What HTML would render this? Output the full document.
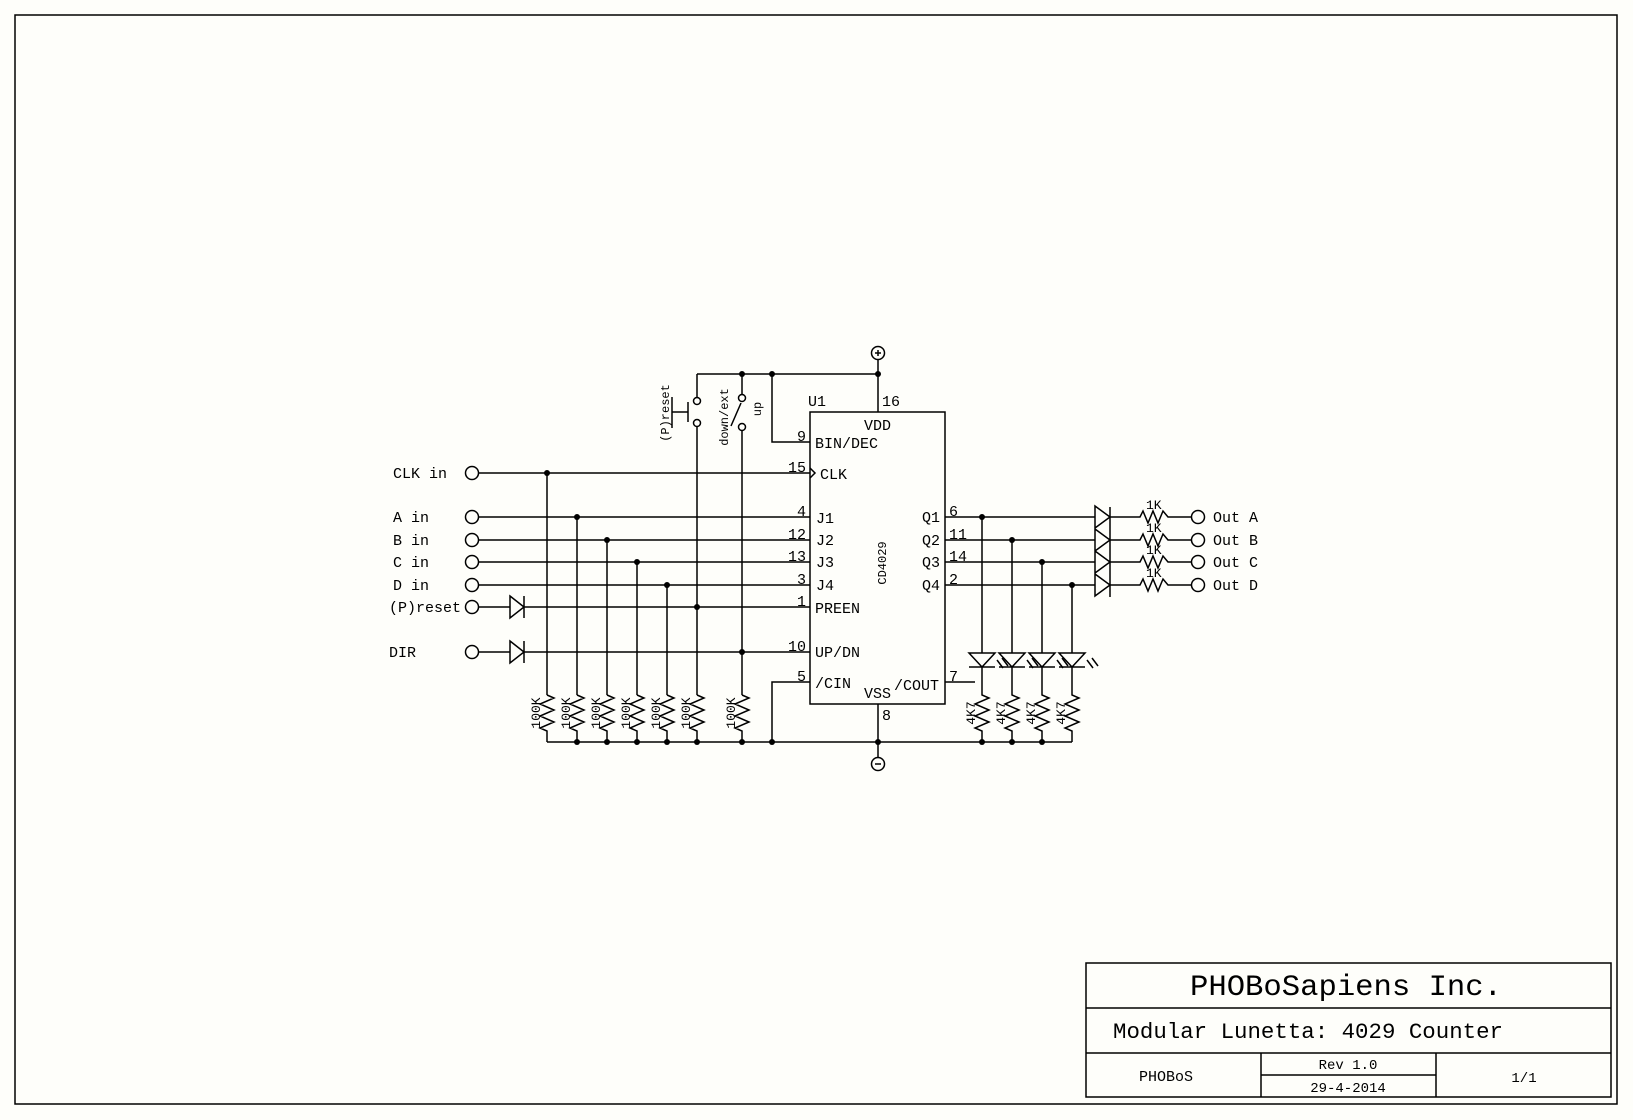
<!DOCTYPE html>
<html><head><meta charset="utf-8"><style>
html,body{margin:0;padding:0;background:#fefefa;}
svg{display:block}
text{font-family:"Liberation Mono",monospace;fill:#000;}
</style></head><body>
<svg width="1633" height="1120" viewBox="0 0 1633 1120" xmlns="http://www.w3.org/2000/svg">
<rect x="0" y="0" width="1633" height="1120" fill="#fefefa"/>
<g fill="none" stroke="#000" stroke-width="1.5">
<rect x="15" y="15" width="1602" height="1089"/>
<!-- title block -->
<rect x="1086" y="963" width="525" height="134"/>
<path d="M1086 1008H1611M1086 1053H1611M1261 1053V1097M1436 1053V1097M1261 1075H1436"/>
<!-- chip -->
<rect x="810" y="412" width="135" height="292"/>
<path d="M810 468l5 5l-5 5"/>
<!-- power -->
<circle cx="878" cy="353" r="6.5"/>
<path d="M878 350v6M875 353h6"/>
<path d="M878 359.5V412M878 704V758"/>
<circle cx="878" cy="764" r="6.5"/>
<path d="M875 764h6"/>
<!-- top rail -->
<path d="M697 374H878M697 374V397.5M772 374V442H810"/>
<!-- pushbutton -->
<circle cx="697" cy="401" r="3.5"/><circle cx="697" cy="423" r="3.5"/>
<path d="M688 402V422M672 412H688M672 397V428"/>
<!-- switch -->
<path d="M742 374V394.5"/>
<circle cx="742" cy="398" r="3.5"/><circle cx="742" cy="427" r="3.5"/>
<path d="M731 426L741 403"/>
<!-- input lines -->
<circle cx="472" cy="473" r="6.5"/><circle cx="472" cy="517" r="6.5"/><circle cx="472" cy="540" r="6.5"/>
<circle cx="472" cy="562" r="6.5"/><circle cx="472" cy="585" r="6.5"/><circle cx="472" cy="607" r="6.5"/><circle cx="472" cy="652" r="6.5"/>
<path d="M478.5 473H810M478.5 517H810M478.5 540H810M478.5 562H810M478.5 585H810"/>
<path d="M478.5 607H510M524 607H810M478.5 652H510M524 652H810"/>
<path d="M510 596L524 607L510 618ZM524 596V618M510 641L524 652L510 663ZM524 641V663"/>
<path d="M810 682H772V742"/>
<!-- verticals -->
<path d="M547 473V695M577 517V695M607 540V695M637 562V695M667 585V695M697 426.5V695M742 430.5V695"/>
<path d="M547 695l7 3l-14 6l14 6l-14 6l14 6l-14 6l7 3V742
M577 695l7 3l-14 6l14 6l-14 6l14 6l-14 6l7 3V742
M607 695l7 3l-14 6l14 6l-14 6l14 6l-14 6l7 3V742
M637 695l7 3l-14 6l14 6l-14 6l14 6l-14 6l7 3V742
M667 695l7 3l-14 6l14 6l-14 6l14 6l-14 6l7 3V742
M697 695l7 3l-14 6l14 6l-14 6l14 6l-14 6l7 3V742
M742 695l7 3l-14 6l14 6l-14 6l14 6l-14 6l7 3V742"/>
<path d="M547 742H1072"/>
<!-- outputs -->
<path d="M945 517H1095M945 540H1095M945 562H1095M945 585H1095"/>
<path d="M1095 506L1110 517L1095 528ZM1095 529L1110 540L1095 551ZM1095 551L1110 562L1095 573ZM1095 574L1110 585L1095 596ZM1110 507V597"/>
<path d="M1110 517H1140l3 -6l5 12l5 -12l5 12l5 -12l5 6H1191.5
M1110 540H1140l3 -6l5 12l5 -12l5 12l5 -12l5 6H1191.5
M1110 562H1140l3 -6l5 12l5 -12l5 12l5 -12l5 6H1191.5
M1110 585H1140l3 -6l5 12l5 -12l5 12l5 -12l5 6H1191.5"/>
<circle cx="1198" cy="517" r="6.5"/><circle cx="1198" cy="540" r="6.5"/><circle cx="1198" cy="562" r="6.5"/><circle cx="1198" cy="585" r="6.5"/>
<!-- LEDs -->
<path d="M982 517V653M1012 540V653M1042 562V653M1072 585V653"/>
<path d="M969 653H995L982 667ZM969 667H995M999 653H1025L1012 667ZM999 667H1025M1029 653H1055L1042 667ZM1029 667H1055M1059 653H1085L1072 667ZM1059 667H1085"/>
<path d="M997 660l6 8M1002 658l6 8M1027 660l6 8M1032 658l6 8M1057 660l6 8M1062 658l6 8M1087 660l6 8M1092 658l6 8"/>
<path d="M982 667V695l7 3l-14 6l14 6l-14 6l14 6l-14 6l7 3V742
M1012 667V695l7 3l-14 6l14 6l-14 6l14 6l-14 6l7 3V742
M1042 667V695l7 3l-14 6l14 6l-14 6l14 6l-14 6l7 3V742
M1072 667V695l7 3l-14 6l14 6l-14 6l14 6l-14 6l7 3V742"/>
<path d="M945 682H975"/>
</g>
<g fill="#000">
<circle cx="742" cy="374" r="3"/><circle cx="772" cy="374" r="3"/><circle cx="878" cy="374" r="3"/>
<circle cx="547" cy="473" r="3"/><circle cx="577" cy="517" r="3"/><circle cx="607" cy="540" r="3"/><circle cx="637" cy="562" r="3"/><circle cx="667" cy="585" r="3"/>
<circle cx="697" cy="607" r="3"/><circle cx="742" cy="652" r="3"/>
<circle cx="577" cy="742" r="3"/><circle cx="607" cy="742" r="3"/><circle cx="637" cy="742" r="3"/><circle cx="667" cy="742" r="3"/><circle cx="697" cy="742" r="3"/><circle cx="742" cy="742" r="3"/><circle cx="772" cy="742" r="3"/><circle cx="878" cy="742" r="3"/>
<circle cx="982" cy="742" r="3"/><circle cx="1012" cy="742" r="3"/><circle cx="1042" cy="742" r="3"/>
<circle cx="982" cy="517" r="3"/><circle cx="1012" cy="540" r="3"/><circle cx="1042" cy="562" r="3"/><circle cx="1072" cy="585" r="3"/>
</g>
<g font-size="15">
<text x="393" y="478">CLK in</text>
<text x="393" y="522">A in</text>
<text x="393" y="545">B in</text>
<text x="393" y="567">C in</text>
<text x="393" y="590">D in</text>
<text x="389" y="612">(P)reset</text>
<text x="389" y="657">DIR</text>
<text x="808" y="406">U1</text>
<text x="882" y="406">16</text>
<text x="882" y="720">8</text>
<text x="864" y="430">VDD</text>
<text x="815" y="448">BIN/DEC</text>
<text x="820" y="479">CLK</text>
<text x="816" y="523">J1</text>
<text x="816" y="545">J2</text>
<text x="816" y="567">J3</text>
<text x="816" y="590">J4</text>
<text x="815" y="613">PREEN</text>
<text x="815" y="657">UP/DN</text>
<text x="815" y="688">/CIN</text>
<text x="864" y="698">VSS</text>
<text x="894" y="690">/COUT</text>
<text x="940" y="522" text-anchor="end">Q1</text>
<text x="940" y="545" text-anchor="end">Q2</text>
<text x="940" y="567" text-anchor="end">Q3</text>
<text x="940" y="590" text-anchor="end">Q4</text>
<text x="806" y="441" text-anchor="end">9</text>
<text x="806" y="472" text-anchor="end">15</text>
<text x="806" y="516" text-anchor="end">4</text>
<text x="806" y="539" text-anchor="end">12</text>
<text x="806" y="561" text-anchor="end">13</text>
<text x="806" y="584" text-anchor="end">3</text>
<text x="806" y="606" text-anchor="end">1</text>
<text x="806" y="651" text-anchor="end">10</text>
<text x="806" y="681" text-anchor="end">5</text>
<text x="949" y="516">6</text>
<text x="949" y="539">11</text>
<text x="949" y="561">14</text>
<text x="949" y="584">2</text>
<text x="949" y="681">7</text>
<text x="1213" y="522">Out A</text>
<text x="1213" y="545">Out B</text>
<text x="1213" y="567">Out C</text>
<text x="1213" y="590">Out D</text>
</g>
<g font-size="13">
<text x="1146" y="509">1K</text><text x="1146" y="532">1K</text><text x="1146" y="554">1K</text><text x="1146" y="577">1K</text>
</g>
<g font-size="13">
<text transform="translate(540,713) rotate(-90)" text-anchor="middle">100K</text>
<text transform="translate(570,713) rotate(-90)" text-anchor="middle">100K</text>
<text transform="translate(600,713) rotate(-90)" text-anchor="middle">100K</text>
<text transform="translate(630,713) rotate(-90)" text-anchor="middle">100K</text>
<text transform="translate(660,713) rotate(-90)" text-anchor="middle">100K</text>
<text transform="translate(690,713) rotate(-90)" text-anchor="middle">100K</text>
<text transform="translate(735,713) rotate(-90)" text-anchor="middle">100K</text>
<text transform="translate(975,713) rotate(-90)" text-anchor="middle">4K7</text>
<text transform="translate(1005,713) rotate(-90)" text-anchor="middle">4K7</text>
<text transform="translate(1035,713) rotate(-90)" text-anchor="middle">4K7</text>
<text transform="translate(1065,713) rotate(-90)" text-anchor="middle">4K7</text>
<text transform="translate(886,563) rotate(-90)" text-anchor="middle" font-size="12">CD4029</text>
</g>
<g font-size="12">
<text transform="translate(669,413) rotate(-90)" text-anchor="middle">(P)reset</text>
<text transform="translate(728,417) rotate(-90)" text-anchor="middle">down/ext</text>
<text transform="translate(761,409) rotate(-90)" text-anchor="middle">up</text>
</g>
<text x="1190" y="995" font-size="30" textLength="312" lengthAdjust="spacingAndGlyphs">PHOBoSapiens Inc.</text>
<text x="1113" y="1038" font-size="22" textLength="390" lengthAdjust="spacingAndGlyphs">Modular Lunetta: 4029 Counter</text>
<text x="1166" y="1081" font-size="15" text-anchor="middle">PHOBoS</text>
<text x="1348" y="1069" font-size="14" text-anchor="middle">Rev 1.0</text>
<text x="1348" y="1092" font-size="14" text-anchor="middle">29-4-2014</text>
<text x="1524" y="1082" font-size="14" text-anchor="middle">1/1</text>
</svg>
</body></html>
